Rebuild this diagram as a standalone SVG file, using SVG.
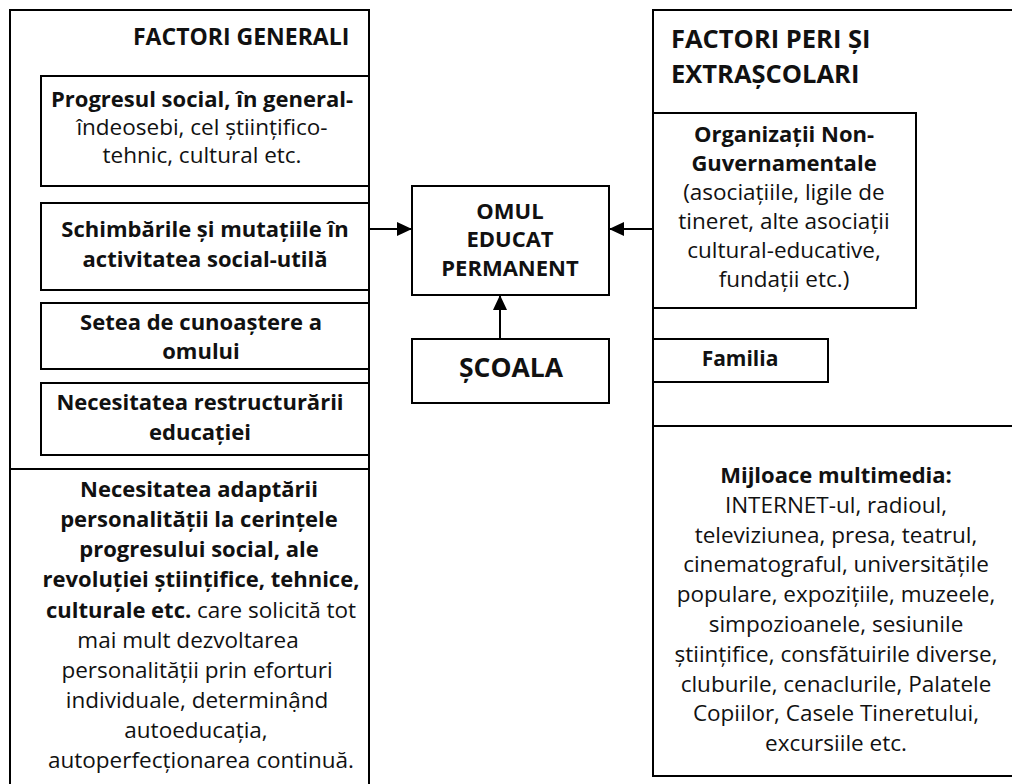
<svg xmlns="http://www.w3.org/2000/svg" width="1012" height="784" viewBox="0 0 1012 784">
<defs>
<style>
.box{fill:none;stroke:#000;stroke-width:2}
.ln{fill:none;stroke:#000;stroke-width:2}
text{font-family:"Open Sans",Lato,"Liberation Sans",sans-serif;font-size:22.5px;fill:#111}
.b{font-weight:bold;font-size:22px}
.c{text-anchor:middle}
.h1{font-weight:bold;font-size:23px}
.h2{font-weight:bold;font-size:25.5px}
.big{font-size:26.5px;font-weight:bold}
.fam{font-weight:bold;font-size:21px}
</style>
<marker id="ah" viewBox="0 0 15 14" refX="15" refY="7" markerWidth="15" markerHeight="14" markerUnits="userSpaceOnUse" orient="auto">
<path d="M0,0 L15,7 L0,14 Z" fill="#000"/>
</marker>
</defs>
<rect width="1012" height="784" fill="#fff"/>

<g id="factori-generali">
<path class="box" d="M369,469 L369,10 L10,10 L10,469"/>
<text class="h1" x="133" y="45">FACTORI GENERALI</text>
</g>
<g id="progresul">
<rect class="box" x="41" y="76" width="328" height="110"/>
<text class="c b" x="202" y="107">Progresul social, în general-</text>
<text class="c" x="202" y="135">îndeosebi, cel științifico-</text>
<text class="c" x="202" y="163">tehnic, cultural etc.</text>
</g>
<g id="schimbarile">
<rect class="box" x="41" y="203" width="328" height="87"/>
<text class="c b" x="205" y="237">Schimbările și mutațiile în</text>
<text class="c b" x="205" y="267">activitatea social-utilă</text>
</g>
<g id="setea">
<rect class="box" x="41" y="303" width="328" height="66"/>
<text class="c b" x="201" y="330">Setea de cunoaștere a</text>
<text class="c b" x="201" y="359">omului</text>
</g>
<g id="necesitatea-restructurarii">
<rect class="box" x="41" y="383" width="328" height="72"/>
<text class="c b" x="200" y="410">Necesitatea restructurării</text>
<text class="c b" x="200" y="440">educației</text>
</g>
<g id="necesitatea-adaptarii">
<path class="box" d="M10,790 L10,469 L369,469 L369,790"/>
<text class="c b" x="199" y="497">Necesitatea adaptării</text>
<text class="c b" x="199" y="527">personalității la cerințele</text>
<text class="c b" x="199" y="557">progresului social, ale</text>
<text class="c b" x="201" y="587">revoluției științifice, tehnice,</text>
<text class="c" x="201" y="618"><tspan class="b">culturale etc.</tspan> care solicită tot</text>
<text class="c" x="188" y="648">mai mult dezvoltarea</text>
<text class="c" x="197" y="678">personalității prin eforturi</text>
<text class="c" x="197" y="708">individuale, determinậnd</text>
<text class="c" x="196" y="738">autoeducația,</text>
<text class="c" x="201" y="768">autoperfecționarea continuă.</text>
</g>

<g id="omul">
<rect class="box" x="412" y="186" width="197" height="109"/>
<text class="c b" x="510" y="219">OMUL</text>
<text class="c b" x="510" y="247">EDUCAT</text>
<text class="c b" x="510" y="276">PERMANENT</text>
</g>
<g id="scoala">
<rect class="box" x="412" y="339" width="197" height="64"/>
<text class="c big" x="511" y="377">ȘCOALA</text>
</g>

<g id="factori-peri">
<path class="box" d="M1020,10 L653,10 L653,426 L1020,426"/>
<text class="h2" x="671" y="48">FACTORI PERI ȘI</text>
<text class="h2" x="671" y="83">EXTRAȘCOLARI</text>
</g>
<g id="ong">
<rect class="box" x="653" y="113" width="263" height="195"/>
<text class="c b" x="784" y="142">Organizații Non-</text>
<text class="c b" x="784" y="171">Guvernamentale</text>
<text class="c" x="784" y="200">(asociațiile, ligile de</text>
<text class="c" x="784" y="229">tineret, alte asociații</text>
<text class="c" x="784" y="258">cultural-educative,</text>
<text class="c" x="784" y="287">fundații etc.)</text>
</g>
<g id="familia">
<rect class="box" x="653" y="339" width="175" height="43"/>
<text class="c fam" x="740" y="366">Familia</text>
</g>
<g id="mijloace">
<path class="box" d="M1020,426 L653,426 L653,776 L1020,776"/>
<text class="c b" x="836" y="483">Mijloace multimedia:</text>
<text class="c" x="836" y="513">INTERNET-ul, radioul,</text>
<text class="c" x="836" y="543">televiziunea, presa, teatrul,</text>
<text class="c" x="836" y="572">cinematograful, universitățile</text>
<text class="c" x="836" y="602">populare, expozițiile, muzeele,</text>
<text class="c" x="836" y="632">simpozioanele, sesiunile</text>
<text class="c" x="836" y="662">științifice, consfătuirile diverse,</text>
<text class="c" x="836" y="692">cluburile, cenaclurile, Palatele</text>
<text class="c" x="836" y="721">Copiilor, Casele Tineretului,</text>
<text class="c" x="836" y="751">excursiile etc.</text>
</g>

<g id="connectors">
<line class="ln" x1="369" y1="229" x2="412" y2="229" marker-end="url(#ah)"/>
<line class="ln" x1="653" y1="229" x2="609" y2="229" marker-end="url(#ah)"/>
<line class="ln" x1="500" y1="339" x2="500" y2="295" marker-end="url(#ah)"/>
</g>
</svg>
